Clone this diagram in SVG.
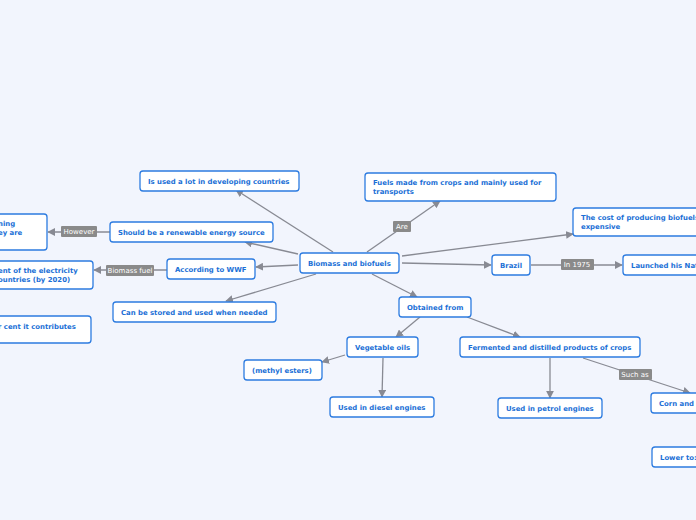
<svg xmlns="http://www.w3.org/2000/svg" width="696" height="520" viewBox="0 0 696 520">
<defs>
<marker id="a" viewBox="0 0 10 10" refX="9" refY="5" markerWidth="6" markerHeight="6" orient="auto"><path d="M0,0L10,5L0,10z" fill="#888a93"/></marker>
<style>
.n rect{fill:#fff;stroke:#2c7be0;stroke-width:1.3}
.n text{font-family:"DejaVu Sans",sans-serif;font-size:6.9px;font-weight:bold;fill:#1a6fd6}
.c line{stroke:#888a93;stroke-width:1.3;marker-end:url(#a)}
.l rect{fill:#8a8a8a}
.l text{font-family:"DejaVu Sans",sans-serif;font-size:7px;fill:#fff;text-anchor:middle}
</style>
</defs>
<rect width="696" height="520" fill="#f2f5fd"/>
<g class="c">
<line x1="333" y1="252" x2="236" y2="190"/>
<line x1="298" y1="254" x2="245" y2="242"/>
<line x1="298" y1="265" x2="256" y2="267"/>
<line x1="316" y1="274" x2="226" y2="301"/>
<line x1="367" y1="252" x2="440" y2="201"/>
<line x1="402" y1="256" x2="573" y2="234"/>
<line x1="402" y1="263" x2="491" y2="265"/>
<line x1="372" y1="274" x2="417" y2="297"/>
<line x1="420" y1="317" x2="396" y2="337"/>
<line x1="467" y1="317" x2="520" y2="337"/>
<line x1="345" y1="355" x2="322" y2="362"/>
<line x1="383" y1="358" x2="382" y2="397"/>
<line x1="550" y1="358" x2="550" y2="398"/>
<line x1="583" y1="358" x2="690" y2="393"/>
<line x1="110" y1="232" x2="48" y2="232"/>
<line x1="167" y1="270" x2="94" y2="270"/>
<line x1="531" y1="265" x2="622" y2="265"/>
</g>
<g class="l">
<rect x="393" y="221" width="18" height="11" rx="1"/><text x="402" y="229">Are</text>
<rect x="61" y="226" width="36" height="11" rx="1"/><text x="79" y="234">However</text>
<rect x="106" y="265" width="48" height="11" rx="1"/><text x="130" y="273">Biomass fuel</text>
<rect x="561" y="259" width="33" height="11" rx="1"/><text x="577" y="267">In 1975</text>
<rect x="619" y="369" width="33" height="11" rx="1"/><text x="635" y="377">Such as</text>
</g>
<g class="n" id="n1"><rect x="140" y="171" width="159" height="20" rx="3"/><text x="148" y="183.5">Is used a lot in developing countries</text></g>
<g class="n" id="n2"><rect x="365" y="173" width="191" height="28" rx="3"/><text x="373" y="185">Fuels made from crops and mainly used for</text><text x="373" y="194">transports</text></g>
<g class="n" id="n3"><rect x="110" y="222" width="163" height="20" rx="3"/><text x="118" y="234.5">Should be a renewable energy source</text></g>
<g class="n" id="n4"><rect x="-10" y="214" width="57" height="36" rx="3"/><text x="-2" y="226">ning</text><text x="-2" y="235">ey are</text></g>
<g class="n" id="n5"><rect x="573" y="208" width="130" height="28" rx="3"/><text x="581" y="219.5">The cost of producing biofuels is</text><text x="581" y="228.5">expensive</text></g>
<g class="n" id="n6"><rect x="167" y="259" width="88" height="20" rx="3"/><text x="175" y="271.5">According to WWF</text></g>
<g class="n" id="n7"><rect x="-10" y="261" width="103" height="28" rx="3"/><text x="-2" y="272.5">ent of the electricity</text><text x="-2" y="281.5">ountries (by 2020)</text></g>
<g class="n" id="n8"><rect x="300" y="253" width="99" height="20" rx="3"/><text x="308" y="265.5">Biomass and biofuels</text></g>
<g class="n" id="n9"><rect x="492" y="255" width="38" height="20" rx="3"/><text x="500" y="267.5">Brazil</text></g>
<g class="n" id="n10"><rect x="623" y="255" width="80" height="20" rx="3"/><text x="631" y="267.5">Launched his National</text></g>
<g class="n" id="n11"><rect x="113" y="302" width="163" height="20" rx="3"/><text x="121" y="314.5">Can be stored and used when needed</text></g>
<g class="n" id="n12"><rect x="-10" y="316" width="101" height="27" rx="3"/><text x="-2" y="328.5">r cent it contributes</text></g>
<g class="n" id="n13"><rect x="399" y="297" width="72" height="20" rx="3"/><text x="407" y="309.5">Obtained from</text></g>
<g class="n" id="n14"><rect x="347" y="337" width="71" height="20" rx="3"/><text x="355" y="349.5">Vegetable oils</text></g>
<g class="n" id="n15"><rect x="460" y="337" width="180" height="20" rx="3"/><text x="468" y="349.5">Fermented and distilled products of crops</text></g>
<g class="n" id="n16"><rect x="244" y="360" width="78" height="20" rx="3"/><text x="252" y="372.5">(methyl esters)</text></g>
<g class="n" id="n17"><rect x="330" y="397" width="104" height="20" rx="3"/><text x="338" y="409.5">Used in diesel engines</text></g>
<g class="n" id="n18"><rect x="498" y="398" width="104" height="20" rx="3"/><text x="506" y="410.5">Used in petrol engines</text></g>
<g class="n" id="n19"><rect x="651" y="393" width="55" height="20" rx="3"/><text x="659" y="405.5">Corn  and</text></g>
<g class="n" id="n20"><rect x="652" y="447" width="55" height="20" rx="3"/><text x="660" y="459.5">Lower to:</text></g>
</svg>
